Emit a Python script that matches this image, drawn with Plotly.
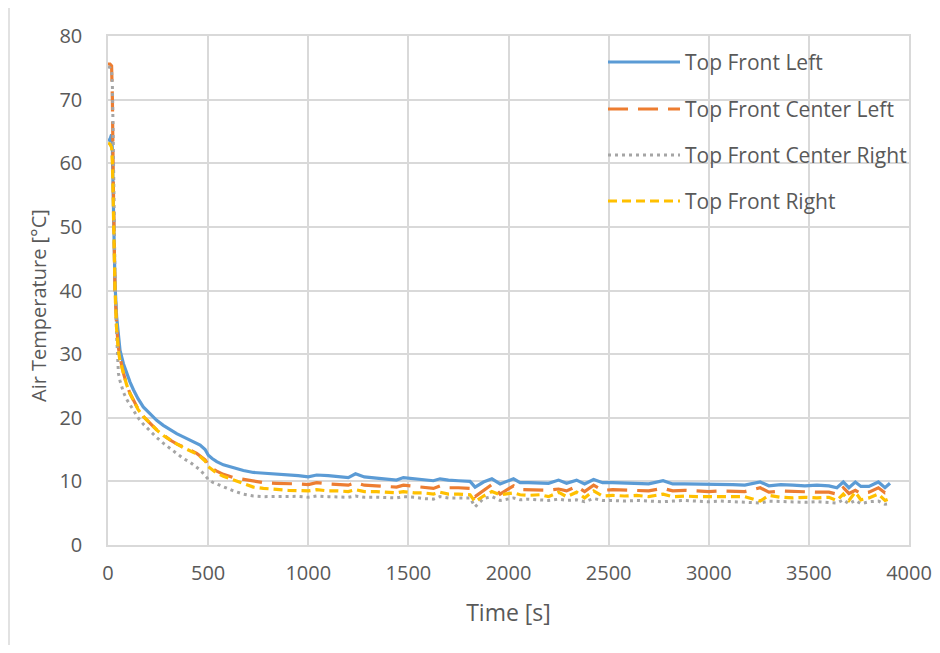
import plotly.graph_objects as go

# time axis [s]
time_s = [0, 10, 18, 22, 26, 30, 35, 43, 52, 60,
          77, 93, 110, 127, 150, 176, 210, 243, 276, 310,
          343, 376, 410, 443, 460, 485, 501, 520, 543, 576,
          626, 676, 726, 776, 842, 900, 950, 1000, 1042, 1100,
          1150, 1200, 1236, 1280, 1340, 1400, 1441, 1475, 1530, 1575,
          1625, 1658, 1700, 1750, 1808, 1833, 1875, 1917, 1958, 2025,
          2058, 2100, 2158, 2200, 2250, 2290, 2340, 2380, 2425, 2470,
          2520, 2580, 2640, 2700, 2772, 2820, 2880, 2940, 3000, 3060,
          3120, 3180, 3257, 3300, 3360, 3420, 3480, 3540, 3600, 3640,
          3672, 3700, 3732, 3760, 3800, 3847, 3880, 3905]

top_front_left = [63.5, 63.8, 64.5, 62.0, 55.0, 47.0, 41.0, 35.9, 32.5, 30.6,
                  28.5, 27.0, 25.6, 24.4, 23.0, 21.7, 20.6, 19.6, 18.8, 18.1,
                  17.5, 17.0, 16.5, 16.0, 15.7, 15.0, 14.1, 13.6, 13.1, 12.6,
                  12.1, 11.7, 11.4, 11.3, 11.2, 11.0, 10.9, 10.7, 11.0, 10.9,
                  10.8, 10.6, 11.2, 10.7, 10.5, 10.3, 10.2, 10.6, 10.4, 10.2,
                  10.1, 10.4, 10.2, 10.1, 10.0, 9.1, 9.9, 10.4, 9.6, 10.4,
                  9.8, 9.8, 9.8, 9.7, 10.2, 9.7, 10.2, 9.6, 10.3, 9.8,
                  9.8, 9.7, 9.7, 9.6, 10.1, 9.6, 9.6, 9.6, 9.6, 9.5,
                  9.5, 9.4, 9.9, 9.3, 9.5, 9.4, 9.3, 9.4, 9.3, 9.0,
                  9.9, 9.0, 9.9, 9.2, 9.2, 9.9, 9.0, 9.7]

top_front_center_left = [75.6, 75.6, 75.3, 70.0, 58.0, 48.0, 40.0, 34.5, 31.0, 29.5,
                         27.0, 25.3, 23.8, 22.8, 21.4, 20.2, 19.1, 18.1, 17.3, 16.5,
                         15.9, 15.35, 14.9, 14.4, 14.0, 13.4, 12.6, 12.0, 11.6, 11.1,
                         10.6, 10.3, 10.0, 9.8, 9.7, 9.7, 9.6, 9.5, 9.8, 9.6,
                         9.5, 9.4, 9.8, 9.4, 9.3, 9.2, 9.1, 9.4, 9.2, 9.0,
                         8.9, 9.3, 9.0, 9.0, 8.9, 7.6, 8.6, 9.5, 8.0, 9.3,
                         8.7, 8.7, 8.7, 8.6, 8.8, 8.5, 9.2, 8.4, 9.4, 8.6,
                         8.7, 8.6, 8.6, 8.5, 8.9, 8.5, 8.6, 8.5, 8.4, 8.5,
                         8.4, 8.4, 9.0, 8.3, 8.5, 8.4, 8.3, 8.3, 8.3, 8.0,
                         9.0, 8.1, 8.6, 8.1, 8.3, 9.0, 8.2, 8.3]

top_front_center_right = [75.2, 75.0, 74.5, 72.0, 64.0, 52.0, 42.0, 33.0, 27.0, 25.8,
                          24.0, 22.9, 22.0, 21.2, 20.0, 19.0, 17.9, 16.9, 16.0, 15.2,
                          14.4, 13.6, 13.0, 12.3, 11.8, 10.9, 10.3, 9.9, 9.6, 9.1,
                          8.5, 8.0, 7.7, 7.6, 7.6, 7.6, 7.65, 7.5, 7.7, 7.6,
                          7.5, 7.5, 7.7, 7.5, 7.5, 7.4, 7.4, 7.6, 7.5, 7.3,
                          7.2, 7.6, 7.4, 7.4, 7.4, 6.0, 7.3, 7.6, 7.0, 7.4,
                          7.1, 7.2, 7.1, 7.0, 7.2, 7.0, 7.1, 6.8, 7.3, 7.0,
                          7.0, 6.9, 7.0, 6.9, 6.8, 6.9, 7.0, 6.9, 6.8, 6.9,
                          6.8, 6.8, 6.6, 6.9, 6.8, 6.8, 6.7, 6.8, 6.7, 6.6,
                          7.1, 6.5, 7.0, 6.5, 6.8, 6.9, 6.4, 6.5]

top_front_right = [63.2, 63.0, 62.5, 60.0, 54.0, 47.0, 40.0, 34.0, 30.5, 29.0,
                   27.0, 25.2, 23.8, 22.7, 21.3, 20.2, 19.1, 18.1, 17.2, 16.5,
                   15.9, 15.3, 14.8, 14.3, 13.9, 13.2, 12.3, 11.8, 11.3, 10.8,
                   10.2, 9.6, 9.1, 8.9, 8.7, 8.6, 8.55, 8.5, 8.7, 8.5,
                   8.5, 8.4, 8.7, 8.4, 8.4, 8.3, 8.2, 8.4, 8.2, 8.2,
                   8.0, 8.3, 8.0, 8.0, 7.9, 6.8, 7.7, 8.4, 7.9, 8.2,
                   7.9, 7.8, 7.9, 7.6, 8.3, 7.6, 8.3, 7.4, 8.5, 7.7,
                   7.8, 7.7, 7.8, 7.6, 8.0, 7.6, 7.7, 7.6, 7.6, 7.5,
                   7.5, 7.6, 6.9, 7.8, 7.5, 7.4, 7.5, 7.4, 7.5, 7.0,
                   8.0, 7.0, 8.3, 7.1, 7.4, 8.0, 7.0, 7.3]

series_names = ["Top Front Left", "Top Front Center Left",
                "Top Front Center Right", "Top Front Right"]
series_values = [top_front_left, top_front_center_left,
                 top_front_center_right, top_front_right]

STYLES = [
    dict(color="#5B9BD5", width=3.2, dash="solid"),
    dict(color="#ED7D31", width=3.2, dash="20px,10px"),
    dict(color="#A5A5A5", width=3, dash="3px,4px"),
    dict(color="#FFC000", width=3.2, dash="9px,5px"),
]

FONT = "Open Sans, DejaVu Sans, sans-serif"
TXT = "#595959"
GRID = "#D9D9D9"

# plot area in page pixels (940x653 window); the page body adds an 8px margin
L, R, T, B = 108, 909, 36, 545
OFF = 8
FW, FH = 940 - 2 * OFF, 653 - 2 * OFF


def px_x(px):
    return (px - L) / (R - L)


def px_y(py):
    return (B - py) / (B - T)


fig = go.Figure()
for name, vals, st in zip(series_names, series_values, STYLES):
    fig.add_trace(go.Scatter(x=time_s, y=vals, name=name, mode="lines",
                             line=st, showlegend=False))

# legend drawn by hand so the sample lines are as long as in the original
shapes = []
annotations = []
legend_y = [62, 109, 155, 201]
for name, st, ly in zip(series_names, STYLES, legend_y):
    shapes.append(dict(type="line", xref="paper", yref="paper",
                       x0=px_x(608), x1=px_x(680), y0=px_y(ly), y1=px_y(ly),
                       line=st))
    annotations.append(dict(text=name, xref="paper", yref="paper",
                            x=px_x(683), y=px_y(ly), xanchor="left", yanchor="middle",
                            showarrow=False, font=dict(size=21, color=TXT)))

# y axis title, centred a little below the plot centre as in the original
annotations.append(dict(text="Air Temperature [°C]", xref="paper", yref="paper",
                        x=px_x(38), y=px_y(306), xanchor="center", yanchor="middle",
                        textangle=-90, showarrow=False, font=dict(size=20, color=TXT)))

# outer chart frame (cropped at right and bottom)
shapes.append(dict(type="rect", xref="paper", yref="paper",
                   x0=px_x(9), x1=px_x(990), y0=px_y(700), y1=px_y(5),
                   line=dict(color=GRID, width=1.5), layer="below"))

fig.update_layout(
    width=FW, height=FH,
    plot_bgcolor="white", paper_bgcolor="white",
    font=dict(family=FONT, size=20, color=TXT),
    margin=dict(l=L - OFF, r=FW - (R - OFF), t=T - OFF, b=FH - (B - OFF)),
    shapes=shapes, annotations=annotations,
)
fig.update_xaxes(range=[0, 4000], dtick=500, showgrid=True, gridcolor=GRID, gridwidth=1.5,
                 showline=True, linecolor=GRID, linewidth=1.5, mirror=True,
                 zeroline=False, ticks="", ticklabelstandoff=9, automargin=False,
                 title=dict(text="Time [s]", font=dict(size=23, color=TXT), standoff=20))
fig.update_yaxes(range=[0, 80], dtick=10, showgrid=True, gridcolor=GRID, gridwidth=1.5,
                 showline=True, linecolor=GRID, linewidth=1.5, mirror=True,
                 zeroline=False, ticks="", ticklabelstandoff=20, automargin=False)

fig.write_html("out.html")
